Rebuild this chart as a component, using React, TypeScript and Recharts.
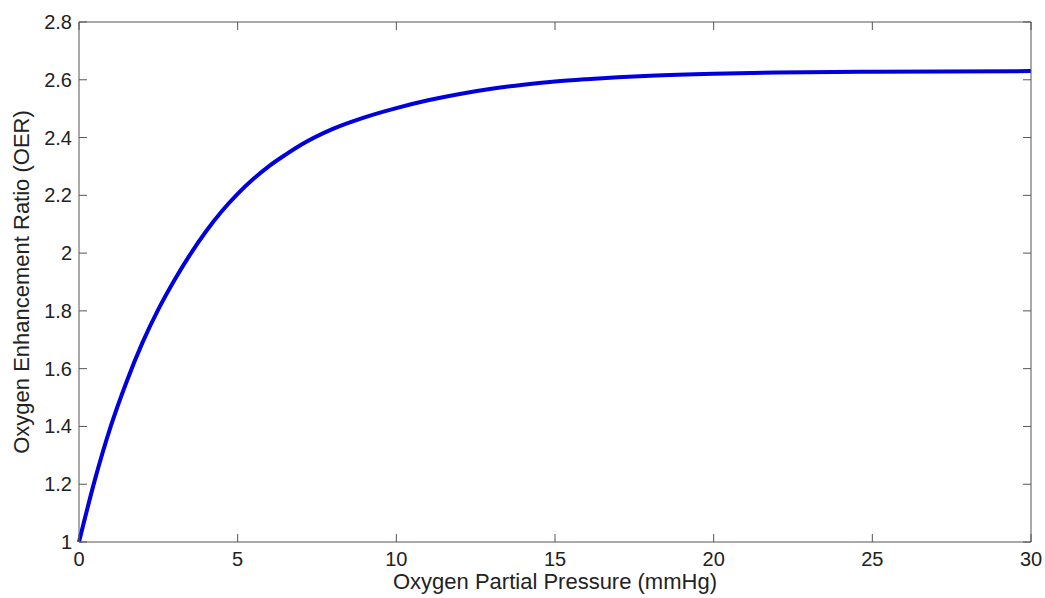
import { Line, LineChart, XAxis, YAxis } from "recharts";

const pressure = [0, 0.5, 1, 1.5, 2, 2.5, 3, 3.5, 4, 4.5, 5, 5.5, 6, 6.5, 7, 8, 9, 10, 11, 12, 13, 14, 15, 16, 18, 20, 22, 25, 30];
const oer = [1.0, 1.215, 1.4, 1.555, 1.69, 1.805, 1.905, 1.995, 2.075, 2.145, 2.205, 2.257, 2.302, 2.34, 2.375, 2.43, 2.47, 2.502, 2.529, 2.551, 2.569, 2.583, 2.594, 2.602, 2.614, 2.621, 2.625, 2.628, 2.63];

const xTicks = [0, 5, 10, 15, 20, 25, 30];
const yTicks = [1, 1.2, 1.4, 1.6, 1.8, 2, 2.2, 2.4, 2.6, 2.8];

const data = pressure.map((p, i) => ({ p, oer: oer[i] }));

const axisColor = "#555";
const font = "'Liberation Sans', Arial, sans-serif";

function BottomTick({ x, y, payload }: any) {
  return (
    <g>
      <line x1={x} y1={y} x2={x} y2={y - 8} stroke={axisColor} />
      <text x={x} y={y + 17} textAnchor="middle" dominantBaseline="central" fontSize={20} fill="#222" fontFamily={font}>
        {payload.value}
      </text>
    </g>
  );
}

function TopTick({ x, y }: any) {
  return <line x1={x} y1={y} x2={x} y2={y + 8} stroke={axisColor} />;
}

function LeftTick({ x, y, payload }: any) {
  return (
    <g>
      <line x1={x} y1={y} x2={x + 8} y2={y} stroke={axisColor} />
      <text x={x - 7} y={y} textAnchor="end" dominantBaseline="central" fontSize={20} fill="#222" fontFamily={font}>
        {String(payload.value)}
      </text>
    </g>
  );
}

function RightTick({ x, y }: any) {
  return <line x1={x} y1={y} x2={x - 8} y2={y} stroke={axisColor} />;
}

export default function App() {
  return (
    <div style={{ position: "absolute", left: 0, top: 0, width: 1045, height: 598, background: "#fff" }}>
      <LineChart width={1045} height={598} data={data} margin={{ top: 21, right: 13, bottom: 0, left: 0 }}>
        <XAxis
          dataKey="p"
          type="number"
          domain={[0, 30]}
          ticks={xTicks}
          height={56}
          tickSize={0}
          tickMargin={0}
          tickLine={false}
          stroke={axisColor}
          tick={<BottomTick />}
          interval={0}
        />
        <XAxis
          xAxisId="top"
          dataKey="p"
          orientation="top"
          type="number"
          domain={[0, 30]}
          ticks={xTicks}
          height={1}
          tickSize={0}
          tickMargin={0}
          tickLine={false}
          stroke={axisColor}
          tick={<TopTick />}
          interval={0}
        />
        <YAxis
          type="number"
          domain={[1, 2.8]}
          ticks={yTicks}
          width={79}
          tickSize={0}
          tickMargin={0}
          tickLine={false}
          stroke={axisColor}
          tick={<LeftTick />}
          interval={0}
        />
        <YAxis
          yAxisId="right"
          orientation="right"
          type="number"
          domain={[1, 2.8]}
          ticks={yTicks}
          width={1}
          tickSize={0}
          tickMargin={0}
          tickLine={false}
          stroke={axisColor}
          tick={<RightTick />}
          interval={0}
        />
        {/* invisible series so the top/right box axes get drawn */}
        <Line
          xAxisId="top"
          yAxisId="right"
          dataKey="oer"
          type="monotone"
          stroke="none"
          dot={false}
          activeDot={false}
          isAnimationActive={false}
        />
        <Line
          dataKey="oer"
          type="monotone"
          stroke="#0000dd"
          strokeWidth={4}
          dot={false}
          isAnimationActive={false}
        />
      </LineChart>
      <div
        style={{
          position: "absolute",
          left: 0,
          top: 569,
          width: 1110,
          textAlign: "center",
          fontFamily: font,
          fontSize: 22,
          color: "#222",
        }}
      >
        Oxygen Partial Pressure (mmHg)
      </div>
      <div
        style={{
          position: "absolute",
          left: 22,
          top: 282,
          transform: "translate(-50%, -50%) rotate(-90deg)",
          whiteSpace: "nowrap",
          fontFamily: font,
          fontSize: 22,
          color: "#222",
        }}
      >
        Oxygen Enhancement Ratio (OER)
      </div>
    </div>
  );
}
